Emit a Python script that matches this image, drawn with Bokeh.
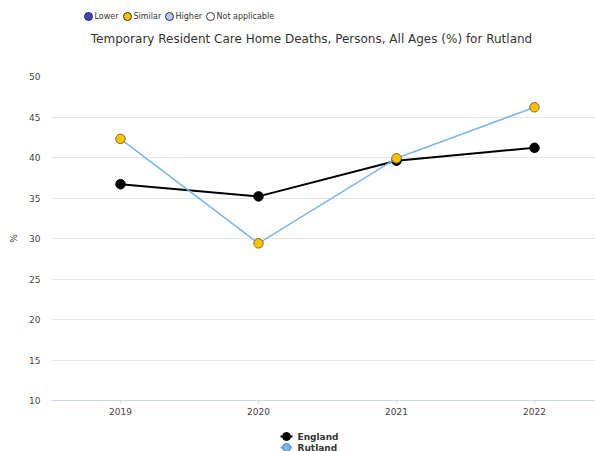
from bokeh.plotting import figure
from bokeh.layouts import column
from bokeh.models import Range1d, FixedTicker, Label
from bokeh.core.properties import value
from bokeh.embed import file_html
from bokeh.resources import INLINE

years = [2019, 2020, 2021, 2022]
england = [36.7, 35.2, 39.6, 41.2]
rutland = [42.3, 29.4, 39.9, 46.2]
rutland_cat = ["Similar", "Similar", "Similar", "Similar"]
cat_names = ["Lower", "Similar", "Higher", "Not applicable"]
cat_colors = {"Lower": "#4040c8", "Similar": "#ffc000", "Higher": "#b4c8f8", "Not applicable": "#ffffff"}
series_names = ["England", "Rutland"]
series_line = {"England": "black", "Rutland": "#7cb5ec"}
series_marker = {"England": ("black", "black"), "Rutland": ("#7cb5ec", "#4a85c4")}
title_text = "Temporary Resident Care Home Deaths, Persons, All Ages (%) for Rutland"

FONT = "DejaVu Sans"
W = 595
LEFT = 51
FW = W - LEFT          # frame width
TOP_H, BOT_H = 60, 33
FRAME_H = 324

# layout positions (pixels in the legend strips' frames)
top_leg_x = [37, 76, 118, 159]
top_leg_y = TOP_H - 16
bot_leg_x = 235
bot_leg_y = [BOT_H - 18, BOT_H - 29]


def strip(h):
    f = figure(width=W, height=h, output_backend="svg", toolbar_location=None,
               x_range=Range1d(0, FW), y_range=Range1d(0, h),
               x_axis_location=None, y_axis_location=None,
               min_border=0, min_border_left=LEFT, min_border_right=0,
               min_border_top=0, min_border_bottom=0)
    f.title = None
    f.outline_line_color = None
    f.grid.visible = False
    return f


# ---------- top: category legend + title ----------
top = strip(TOP_H)
top.scatter(top_leg_x, [top_leg_y] * len(cat_names), size=8,
            fill_color=[cat_colors[c] for c in cat_names], line_color="#333333", line_width=1)
top.text([x + 6 for x in top_leg_x], [top_leg_y] * len(cat_names), text=cat_names,
         text_font=value(FONT), text_font_size="8px", text_color="#333333",
         text_baseline="middle", text_align="left")
top.add_layout(Label(x=260, y=TOP_H - 38, x_units="screen", y_units="screen", text=title_text,
                     text_align="center", text_baseline="middle", text_font=FONT,
                     text_font_size="12px", text_color="#333333"))

# ---------- main chart ----------
p = figure(width=W, height=16 + FRAME_H + 18, output_backend="svg", toolbar_location=None,
           x_range=Range1d(2018.5, 2018.5 + FW / 138.0), y_range=Range1d(10, 50),
           min_border_left=LEFT, min_border_right=0, min_border_top=16, min_border_bottom=18)
p.title = None
p.outline_line_color = None

p.xgrid.grid_line_color = None
p.ygrid.grid_line_color = "#e6e6e6"
p.ygrid.ticker = FixedTicker(ticks=list(range(10, 51, 5)))

p.yaxis.ticker = FixedTicker(ticks=list(range(10, 51, 5)))
p.yaxis.axis_line_color = None
p.yaxis.major_tick_line_color = None
p.yaxis.major_tick_out = 0
p.yaxis.major_tick_in = 0
p.yaxis.minor_tick_line_color = None
p.yaxis.major_label_text_font = FONT
p.yaxis.major_label_text_font_size = "9px"
p.yaxis.major_label_text_color = "#444444"
p.yaxis.major_label_standoff = 11
p.yaxis.axis_label = "%"
p.yaxis.axis_label_text_font = FONT
p.yaxis.axis_label_text_font_size = "9px"
p.yaxis.axis_label_text_font_style = "normal"
p.yaxis.axis_label_text_color = "#444444"
p.yaxis.axis_label_standoff = 7

p.xaxis.ticker = FixedTicker(ticks=years)
p.xaxis.axis_line_color = "#ccd6eb"
p.xaxis.major_tick_line_color = "#ccd6eb"
p.xaxis.major_tick_in = 0
p.xaxis.major_tick_out = 3
p.xaxis.minor_tick_line_color = None
p.xaxis.major_label_text_font = FONT
p.xaxis.major_label_text_font_size = "9px"
p.xaxis.major_label_text_color = "#444444"
p.xaxis.major_label_standoff = 4

p.line(years, england, line_color="black", line_width=2)
p.scatter(years, england, size=9.5, fill_color="black", line_color="black")
p.line(years, rutland, line_color="#7cb5ec", line_width=1.5)
p.scatter(years, rutland, size=9.5, fill_color=[cat_colors[c] for c in rutland_cat],
          line_color="#7a6a3a", line_width=1)

# ---------- bottom: series legend ----------
bot = strip(BOT_H)
bot.segment([bot_leg_x - 6] * 2, bot_leg_y, [bot_leg_x + 6] * 2, bot_leg_y,
            line_color=[series_line[s] for s in series_names], line_width=2)
bot.scatter([bot_leg_x] * 2, bot_leg_y, size=8,
            fill_color=[series_marker[s][0] for s in series_names],
            line_color=[series_marker[s][1] for s in series_names], line_width=1)
bot.text([bot_leg_x + 11] * 2, bot_leg_y, text=series_names,
         text_font=value(FONT), text_font_size="9px", text_font_style="bold",
         text_color="#333333", text_baseline="middle", text_align="left")

layout = column(top, p, bot, spacing=0)
open("out.html", "w").write(file_html(layout, INLINE))
